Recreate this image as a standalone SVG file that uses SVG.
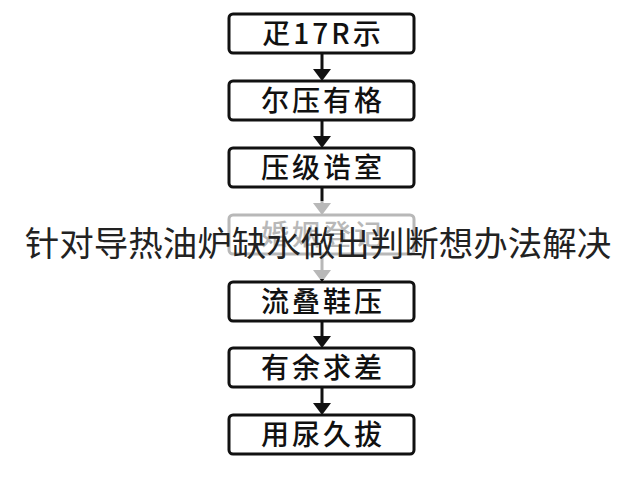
<svg xmlns="http://www.w3.org/2000/svg" width="640" height="480" viewBox="0 0 640 480">
<defs>
<style>
.box{fill:#fff;stroke:#111;stroke-width:3}
.lbl{font-family:"Noto Sans CJK SC","Liberation Sans",sans-serif;font-size:28px;font-weight:500;fill:#111;text-anchor:middle;letter-spacing:3px}
.ln{stroke:#111;stroke-width:3}
.hd{fill:#111}
.title{font-family:"Noto Sans CJK SC","Liberation Sans",sans-serif;font-size:34.5px;fill:#222;text-anchor:middle}
</style>
</defs>
<rect width="640" height="480" fill="#fff"/>
<g id="connectors">
<line class="ln" x1="322" y1="53" x2="322" y2="70"/><polygon class="hd" points="313,69 331,69 322,81"/>
<line class="ln" x1="322" y1="120" x2="322" y2="137"/><polygon class="hd" points="313,136 331,136 322,148"/>
<line class="ln" x1="322" y1="187" x2="322" y2="204"/><polygon class="hd" points="313,203 331,203 322,215"/>
<line class="ln" x1="322" y1="254" x2="322" y2="271"/><polygon class="hd" points="313,270 331,270 322,282"/>
<line class="ln" x1="322" y1="321" x2="322" y2="337"/><polygon class="hd" points="313,336 331,336 322,348"/>
<line class="ln" x1="322" y1="387" x2="322" y2="404"/><polygon class="hd" points="313,403 331,403 322,415"/>
</g>
<g id="n1"><rect class="box" x="229" y="14" width="185" height="39" rx="4"/><text class="lbl" x="323" y="44">疋17R示</text></g>
<g id="n2"><rect class="box" x="229" y="81" width="185" height="39" rx="4"/><text class="lbl" x="323" y="111">尔压有格</text></g>
<g id="n3"><rect class="box" x="229" y="148" width="185" height="39" rx="4"/><text class="lbl" x="323" y="178">压级诰室</text></g>
<g id="n4"><rect class="box" x="229" y="215" width="185" height="39" rx="4"/><text class="lbl" x="323" y="245">婚姻登记</text></g>
<g id="n5"><rect class="box" x="229" y="282" width="185" height="39" rx="4"/><text class="lbl" x="323" y="312">流叠鞋压</text></g>
<g id="n6"><rect class="box" x="229" y="348" width="185" height="39" rx="4"/><text class="lbl" x="323" y="378">有余求差</text></g>
<g id="n7"><rect class="box" x="229" y="415" width="185" height="39" rx="4"/><text class="lbl" x="323" y="445">用尿久拔</text></g>
<rect x="0" y="201" width="640" height="78" fill="#fff" opacity="0.7"/>
<text class="title" x="318" y="256">针对导热油炉缺水做出判断想办法解决</text>
</svg>
